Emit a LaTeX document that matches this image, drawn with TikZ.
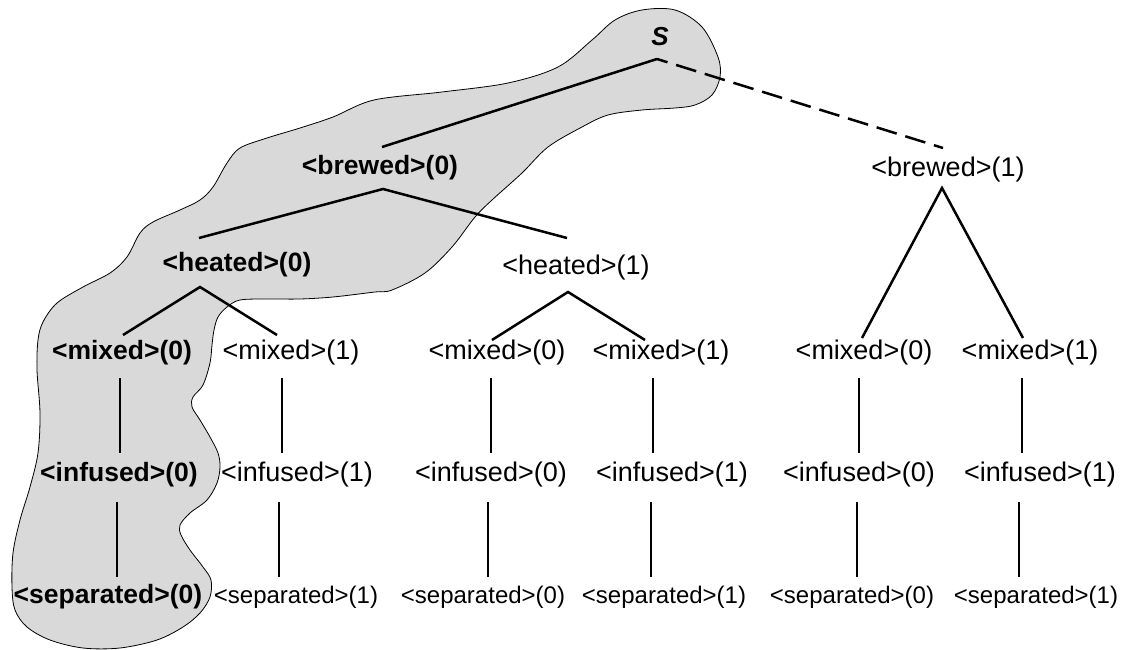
\documentclass[tikz,border=0pt]{standalone}
\usepackage{fontspec}
\setmainfont{Liberation Sans}
\definecolor{blobgray}{RGB}{217,217,217}
\begin{document}
\begin{tikzpicture}[x=1pt,y=-1pt,
  lbl/.style={inner sep=0pt, font=\fontsize{27}{30}\selectfont},
  blbl/.style={inner sep=0pt, font=\fontsize{26.5}{30}\selectfont\bfseries},
  slbl/.style={inner sep=0pt, font=\fontsize{24}{28}\selectfont},
  edge/.style={line width=2.5pt},
  dashedge/.style={line width=2.5pt, dash pattern=on 21pt off 9pt, dash phase=10pt},
  blob/.style={fill=blobgray, draw=black, line width=0.8pt}]
\useasboundingbox (0,0) rectangle (1124,650);

% highlighted region
\path[blob] plot[smooth cycle, tension=0.55] coordinates {
 (38,340) (43,322) (57,303) (83,287) (110,273) (127,257) (140,233) (153,222)
 (180,210) (200,200) (213,187) (227,163) (240,148) (267,138) (300,128) (333,117)
 (374,100) (442,92) (508,83) (558,67) (592,40) (615,20) (642,10) (675,10)
 (702,27) (718,57) (720,77) (712,95) (695,105) (675,108) (642,110) (608,115)
 (582,127) (548,147) (522,173) (492,200) (475,217) (452,247) (425,273) (392,290)
 (375,292) (333,297) (300,299) (267,299) (240,300) (227,307) (218,317) (214,330)
 (212,345) (210,363) (203,385) (193,397) (192,407) (200,420) (210,437) (218,453)
 (220,467) (217,483) (207,500) (190,513) (180,525) (181,535) (190,550) (203,567)
 (211,580) (210,597) (200,613) (183,627) (157,640) (120,648) (83,648) (50,640)
 (27,627) (15,610) (12,587) (13,553) (20,520) (30,487) (38,453) (40,413) (37,370)};

% labels
\node[inner sep=0pt, font=\fontsize{26}{30}\selectfont\bfseries\itshape] (S) at (660,37) {S};
\node[blbl] (b0) at (380,168) {<brewed>(0)};
\node[lbl]  (b1) at (948,170) {<brewed>(1)};
\node[blbl] (h0) at (237,265) {<heated>(0)};
\node[lbl]  (h1) at (576,268) {<heated>(1)};
\node[blbl] (m1) at (122,353) {<mixed>(0)};
\node[lbl]  (m2) at (291,353) {<mixed>(1)};
\node[lbl]  (m3) at (497,353) {<mixed>(0)};
\node[lbl]  (m4) at (661,353) {<mixed>(1)};
\node[lbl]  (m5) at (864,353) {<mixed>(0)};
\node[lbl]  (m6) at (1030,353) {<mixed>(1)};
\node[blbl] (i1) at (119,475) {<infused>(0)};
\node[lbl]  (i2) at (297,475) {<infused>(1)};
\node[lbl]  (i3) at (491,475) {<infused>(0)};
\node[lbl]  (i4) at (672,475) {<infused>(1)};
\node[lbl]  (i5) at (859,475) {<infused>(0)};
\node[lbl]  (i6) at (1040,475) {<infused>(1)};
\node[blbl] (s1) at (108,597) {<separated>(0)};
\node[slbl] (s2) at (296,597) {<separated>(1)};
\node[slbl] (s3) at (483,597) {<separated>(0)};
\node[slbl] (s4) at (664,597) {<separated>(1)};
\node[slbl] (s5) at (852,597) {<separated>(0)};
\node[slbl] (s6) at (1036,597) {<separated>(1)};

% connector end points
\coordinate (Sb)  at (657,59);
\coordinate (b0t) at (382,147); \coordinate (b0b) at (383,189);
\coordinate (b1t) at (943,148); \coordinate (b1b) at (942,188);
\coordinate (h0t) at (199,238); \coordinate (h0b) at (200,287);
\coordinate (h1t) at (567,238); \coordinate (h1b) at (568,292);
\coordinate (m1t) at (123,335); \coordinate (m2t) at (277,335);
\coordinate (m3t) at (492,340); \coordinate (m4t) at (645,340);
\coordinate (m5t) at (862,338); \coordinate (m6t) at (1023,338);
\coordinate (m1b) at (120,378); \coordinate (i1t) at (120,453);
\coordinate (m2b) at (282,378); \coordinate (i2t) at (282,453);
\coordinate (m3b) at (491,378); \coordinate (i3t) at (491,453);
\coordinate (m4b) at (653,378); \coordinate (i4t) at (653,453);
\coordinate (m5b) at (859,378); \coordinate (i5t) at (859,453);
\coordinate (m6b) at (1022,378); \coordinate (i6t) at (1022,453);
\coordinate (i1b) at (117,502); \coordinate (s1t) at (117,577);
\coordinate (i2b) at (279,502); \coordinate (s2t) at (279,577);
\coordinate (i3b) at (488,502); \coordinate (s3t) at (488,577);
\coordinate (i4b) at (651,502); \coordinate (s4t) at (651,577);
\coordinate (i5b) at (857,502); \coordinate (s5t) at (857,577);
\coordinate (i6b) at (1019,502); \coordinate (s6t) at (1019,577);

% connectors
\draw[edge] (b0t) -- (Sb);
\draw[dashedge] (Sb) -- (b1t);
\draw[edge] (h0t) -- (b0b) -- (h1t);
\draw[edge] (m1t) -- (h0b) -- (m2t);
\draw[edge] (m3t) -- (h1b) -- (m4t);
\draw[edge] (m5t) -- (b1b) -- (m6t);
\foreach \k in {1,...,6}{
  \draw[edge] (m\k b) -- (i\k t);
  \draw[edge] (i\k b) -- (s\k t);
}
\end{tikzpicture}
\end{document}
